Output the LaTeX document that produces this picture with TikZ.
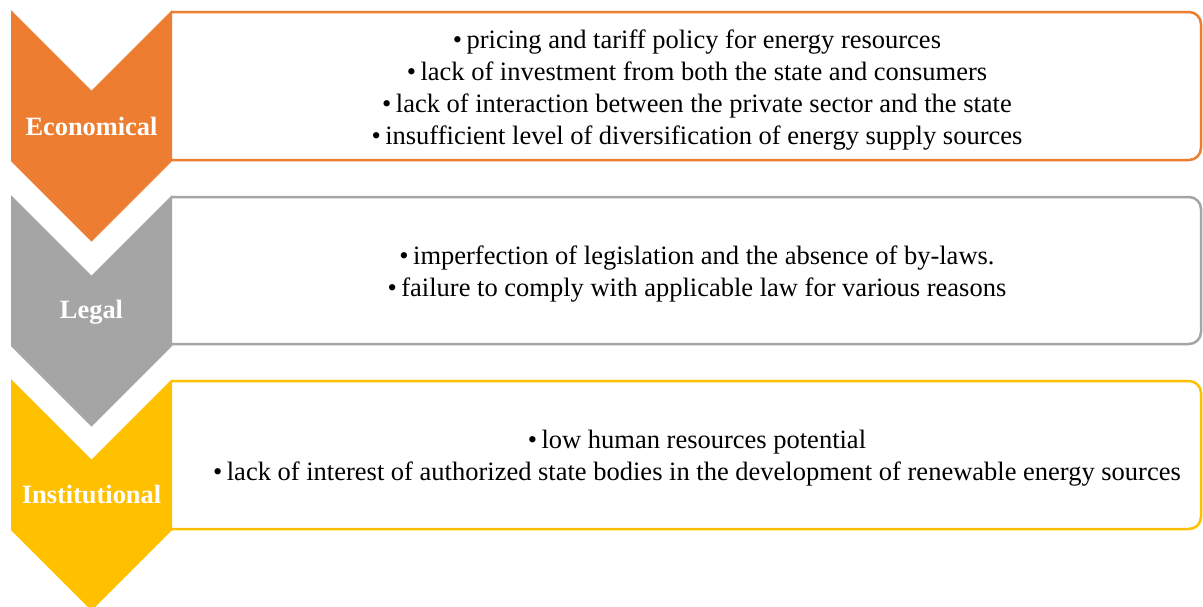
\documentclass[tikz,border=0pt]{standalone}
\usepackage{fontspec}
\setmainfont{Liberation Serif}
\definecolor{econ}{RGB}{237,125,49}
\definecolor{legal}{RGB}{165,165,165}
\definecolor{inst}{RGB}{255,192,0}
\newcommand{\itembullet}{•\,}
\begin{document}
\begin{tikzpicture}[x=1pt,y=-1pt,
  panel/.style={line width=2.5pt, rounded corners=12pt},
  tag/.style={text=white, font=\fontsize{26.4}{30}\selectfont\bfseries, anchor=base},
  items/.style={align=center, font=\fontsize{26.5}{31.7}\selectfont, inner sep=0pt}]
\useasboundingbox (0,0) rectangle (1203,606);
\clip (0,0) rectangle (1203,606);
\fill[white] (0,0) rectangle (1203,606);

% text panels (left edge hidden behind the chevrons)
\draw[panel, econ]  (172,12)  -- (1201,12)  -- (1201,160) -- (172,160);
\draw[panel, legal] (172,197) -- (1201,197) -- (1201,344) -- (172,344);
\draw[panel, inst]  (172,381) -- (1201,381) -- (1201,529) -- (172,529);

% chevrons
\fill[econ]  (11,10)  -- (91.5,90.5)  -- (172,10)  -- (172,161) -- (91.5,241.5) -- (11,161) -- cycle;
\fill[legal] (11,195) -- (91.5,275.5) -- (172,195) -- (172,346) -- (91.5,426.5) -- (11,346) -- cycle;
\fill[inst]  (11,379) -- (91.5,459.5) -- (172,379) -- (172,530) -- (91.5,610.5) -- (11,530) -- cycle;

% chevron labels
\node[tag] (econlbl)  at (91.5,135) {Economical};
\node[tag] (legallbl) at (91.5,318) {Legal};
\node[tag] (instlbl)  at (91.5,503) {Institutional};

% panel contents
\node[items] (econtxt) at (697,90) {\itembullet pricing and tariff policy for energy resources\\
  \itembullet lack of investment from both the state and consumers\\
  \itembullet lack of interaction between the private sector and the state\\
  \itembullet insufficient level of diversification of energy supply sources};
\node[items] (legaltxt) at (697,274) {\itembullet imperfection of legislation and the absence of by-laws.\\
  \itembullet failure to comply with applicable law for various reasons};
\node[items] (insttxt) at (697,458) {\itembullet low human resources potential\\
  \itembullet lack of interest of authorized state bodies in the development of renewable energy sources};
\end{tikzpicture}
\end{document}
